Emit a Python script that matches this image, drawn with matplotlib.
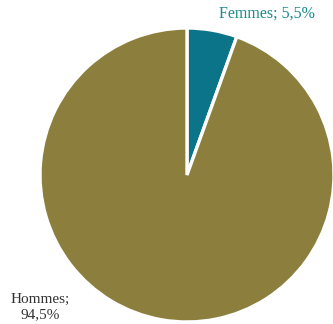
import matplotlib.pyplot as plt

labels = ['Femmes', 'Hommes']
values = [5.5, 94.5]
colors = ['#0b7489', '#8c7f3e']
label_colors = ['#1a8a8a', '#333333']

plt.rcParams['font.family'] = ['Liberation Serif', 'DejaVu Serif']

fig = plt.figure(figsize=(3.33, 3.24), dpi=100)
W, H = 333, 324
cx, cy, r = 187, 149, 147
ax = fig.add_axes([(cx - r) / W, (cy - r) / H, 2 * r / W, 2 * r / H])

ax.pie(values, colors=colors, startangle=90, counterclock=False, radius=1,
       wedgeprops=dict(edgecolor='white', linewidth=2.4))
ax.set_xlim(-1, 1)
ax.set_ylim(-1, 1)
ax.set_aspect('auto')
ax.axis('off')

def fmt(v):
    return f"{v:.1f}".replace('.', ',') + '%'

# Femmes label
fig.text(267 / W, 1 - 14 / H, f"{labels[0]}; {fmt(values[0])}", color=label_colors[0],
         fontsize=11.5, ha='center', va='center')
# Hommes label
fig.text(40 / W, 1 - 307 / H, f"{labels[1]};\n{fmt(values[1])}", color=label_colors[1],
         fontsize=11, ha='center', va='center', linespacing=1.25)

fig.savefig('out.png', dpi=100)
